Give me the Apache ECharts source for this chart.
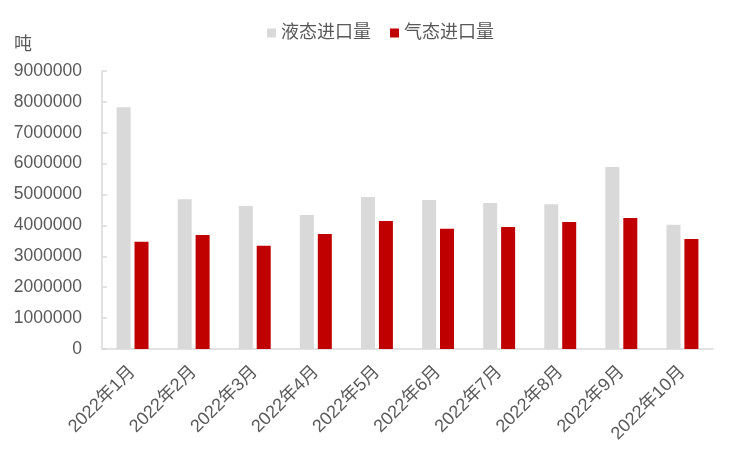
<!DOCTYPE html>
<html>
<head>
<meta charset="utf-8">
<script src="https://cdn.jsdelivr.net/npm/echarts@6/dist/echarts.min.js"></script>
<style>html,body{margin:0;padding:0;background:#fff;}#c{width:750px;height:450px;}</style>
</head>
<body>
<div id="c"></div>
<script>
const categories = ['2022年1月','2022年2月','2022年3月','2022年4月','2022年5月','2022年6月','2022年7月','2022年8月','2022年9月','2022年10月'];
const liquidName = '液态进口量';
const gasName = '气态进口量';
const liquidValues = [7830000, 4850000, 4630000, 4340000, 4920000, 4820000, 4730000, 4690000, 5890000, 4020000];
const gasValues = [3470000, 3690000, 3340000, 3720000, 4140000, 3890000, 3950000, 4110000, 4240000, 3560000];
const unitLabel = '吨';

const font = '"Liberation Sans", Arial, "Noto Sans CJK SC", sans-serif';
const txt = '#595959';
const chart = echarts.init(document.getElementById('c'));
chart.setOption({
  animation: false,
  textStyle: { fontFamily: font },
  title: { text: unitLabel, left: 9, top: 31, textStyle: { fontSize: 18, fontWeight: 'normal', color: txt, fontFamily: font } },
  legend: {
    left: 262, top: 19, icon: 'rect', itemWidth: 9, itemHeight: 9, itemGap: 19,
    textStyle: { fontSize: 18, color: txt, fontFamily: font },
    data: [liquidName, gasName]
  },
  grid: { left: 102, right: 37, top: 71, bottom: 101, containLabel: false },
  xAxis: {
    type: 'category', data: categories,
    axisLine: { lineStyle: { color: '#d9d9d9', width: 1.5 } },
    axisTick: { inside: true, length: 5, lineStyle: { color: '#d9d9d9', width: 1.5 } },
    axisLabel: { rotate: 45, fontSize: 18, color: txt, margin: 20, fontFamily: font }
  },
  yAxis: {
    type: 'value', min: 0, max: 9000000, interval: 1000000,
    axisLine: { show: true, lineStyle: { color: '#d9d9d9', width: 1.5 } },
    axisTick: { show: true, inside: true, length: 5, lineStyle: { color: '#d9d9d9', width: 1.5 } },
    splitLine: { show: false },
    axisLabel: { fontSize: 17.5, color: txt, margin: 20, fontFamily: font, formatter: function (v) { return String(v); } }
  },
  series: [
    { name: liquidName, type: 'bar', data: liquidValues, barWidth: 14, barGap: '28%', itemStyle: { color: '#d9d9d9' } },
    { name: gasName, type: 'bar', data: gasValues, barWidth: 14, barGap: '28%', itemStyle: { color: '#c00000' } }
  ]
});
</script>
</body>
</html>
